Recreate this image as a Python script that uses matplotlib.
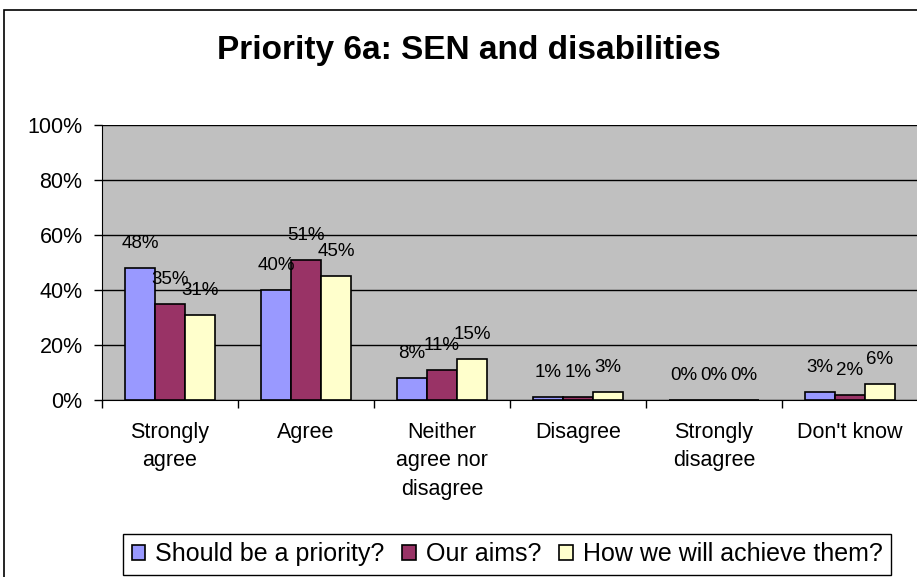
import numpy as np
import matplotlib
matplotlib.use('Agg')
import matplotlib.pyplot as plt
from matplotlib.patches import Rectangle

plt.rcParams['font.family'] = ['Liberation Sans', 'DejaVu Sans']

categories = ['Strongly\nagree', 'Agree', 'Neither\nagree nor\ndisagree',
              'Disagree', 'Strongly\ndisagree', "Don't know"]
series_names = ['Should be a priority?', 'Our aims?', 'How we will achieve them?']
priority = [48, 40, 8, 1, 0, 3]
aims = [35, 51, 11, 1, 0, 2]
achieve = [31, 45, 15, 3, 0, 6]
colors = ['#9999FF', '#993366', '#FFFFCC']

W, H = 917, 577
fig = plt.figure(figsize=(W/100, H/100), dpi=100)
fig.patch.set_facecolor('white')

# outer chart frame
fig.add_artist(Rectangle((4/W, -0.01), 1.0, 1 - 10/H + 0.01, transform=fig.transFigure,
                         fill=False, edgecolor='black', lw=1.2))

ax = fig.add_axes([102/W, 1 - 400/H, 816/W, 275/H])
ax.set_facecolor('#C0C0C0')

x = np.arange(len(categories))
bw = 0.22
for i, (vals, c, nm) in enumerate(zip([priority, aims, achieve], colors, series_names)):
    xs = x + (i - 1)*bw
    ax.bar(xs, vals, width=bw, color=c, edgecolor='black', lw=1.2, label=nm, zorder=3)
    for xx, v in zip(xs, vals):
        ax.annotate(f'{v}%', (xx, v), xytext=(0, 17.5), textcoords='offset points',
                    ha='center', va='center', fontsize=13.5, zorder=4)

ax.set_xlim(-0.5, len(categories) - 0.5)
ax.set_ylim(0, 100)
ax.set_yticks(np.arange(0, 101, 20))
ax.set_yticklabels([f'{v}%' for v in range(0, 101, 20)], fontsize=15.5)
ax.yaxis.grid(True, color='black', lw=1.0, zorder=1)
ax.set_axisbelow(True)

ax.set_xticks(x)
ax.set_xticklabels(categories, fontsize=15.5, linespacing=1.45, va='top')
ax.set_xticks(np.arange(-0.5, len(categories), 1), minor=True)
ax.tick_params(axis='x', which='major', length=0, pad=16)
ax.tick_params(axis='x', which='minor', length=6, width=1, direction='out')
ax.tick_params(axis='y', length=6, width=1, direction='out', pad=8)

for s in ['top', 'right']:
    ax.spines[s].set_visible(False)
ax.spines['left'].set_color('black')
ax.spines['bottom'].set_color('black')

fig.text(469/W, 1 - 50/H, 'Priority 6a: SEN and disabilities', ha='center', va='center',
         fontsize=24, fontweight='bold')

leg = fig.legend(loc='lower center', bbox_to_anchor=(507/W, 2/H), ncol=3, fontsize=18,
                 frameon=True, fancybox=False, edgecolor='black', framealpha=1,
                 handlelength=0.55, handleheight=0.55, handletextpad=0.4, columnspacing=0.7,
                 borderpad=0.35, borderaxespad=0)
leg.get_frame().set_linewidth(1.0)

fig.savefig('out.png', dpi=100)
